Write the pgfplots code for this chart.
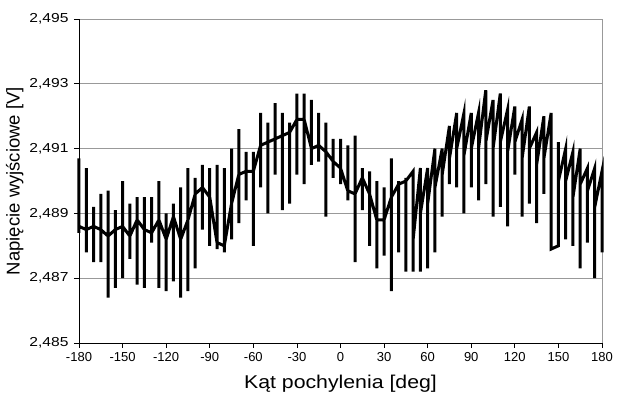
\documentclass[border=0pt]{standalone}
\usepackage{fontspec}
\setmainfont{Liberation Sans}
\usepackage{graphicx}
\usepackage{pgfplots}
\pgfplotsset{compat=1.18}
\newcommand{\yl}[1]{\scalebox{1.2}[1]{#1}}
\begin{document}
\begin{tikzpicture}
\begin{axis}[
  name=ax,
  scale only axis,
  width=523pt, height=324pt,
  xmin=-180, xmax=180,
  ymin=2.485, ymax=2.495,
  xtick={-180,-150,...,180},
  xticklabels={-180,-150,-120,-90,-60,-30,0,30,60,90,120,150,180},
  ytick={2.485,2.487,2.489,2.491,2.493,2.495},
  yticklabels={\yl{2,485},\yl{2,487},\yl{2,489},\yl{2,491},\yl{2,493},\yl{2,495}},
  axis lines*=left,
  axis line style={black, line width=0.8pt},
  tick align=outside,
  major tick length=5pt,
  tick style={black, line width=0.8pt},
  ymajorgrids,
  major grid style={gray!80, line width=0.7pt},
  extra x ticks={180}, extra x tick labels={},
  extra x tick style={xmajorgrids=true, major tick length=0pt},
  tick label style={font=\fontsize{13}{15}\selectfont},
  yticklabel style={xshift=-2pt},
  xticklabel style={yshift=-1pt},
  xlabel={\scalebox{1.15}[1]{Kąt pochylenia [deg]}},
  ylabel={Napięcie wyjściowe [V]},
  label style={font=\fontsize{18.5}{22}\selectfont},
  xlabel style={yshift=-1pt},
  ylabel style={yshift=-1pt},
  clip=false,
]
\addplot[black, line width=3pt, line join=miter] table {
x y
-180 2.4907
-180 2.4884
-180 2.4886
-175 2.4885
-175 2.4904
-175 2.4878
-175 2.4885
-170 2.4886
-170 2.4892
-170 2.4875
-170 2.4886
-165 2.4885
-165 2.4896
-165 2.4875
-165 2.4885
-160 2.4883
-160 2.4897
-160 2.4864
-160 2.4883
-155 2.4885
-155 2.4891
-155 2.4867
-155 2.4885
-150 2.4886
-150 2.4900
-150 2.4870
-150 2.4886
-145 2.4883
-145 2.4893
-145 2.4876
-145 2.4883
-140 2.4888
-140 2.4895
-140 2.4868
-140 2.4888
-135 2.4885
-135 2.4895
-135 2.4867
-135 2.4885
-130 2.4884
-130 2.4895
-130 2.4881
-130 2.4884
-125 2.4888
-125 2.4900
-125 2.4867
-125 2.4888
-120 2.4882
-120 2.4890
-120 2.4866
-120 2.4882
-115 2.4889
-115 2.4893
-115 2.4869
-115 2.4889
-110 2.4882
-110 2.4898
-110 2.4864
-110 2.4882
-105 2.4888
-105 2.4904
-105 2.4866
-105 2.4888
-100 2.4896
-100 2.4901
-100 2.4873
-100 2.4896
-95 2.4898
-95 2.4905
-95 2.4885
-95 2.4898
-90 2.4895
-90 2.4904
-90 2.4880
-90 2.4895
-85 2.4881
-85 2.4905
-85 2.4879
-85 2.4881
-80 2.4880
-80 2.4904
-80 2.4878
-80 2.4880
-75 2.4893
-75 2.4910
-75 2.4882
-75 2.4893
-70 2.4902
-70 2.4916
-70 2.4887
-70 2.4902
-65 2.4903
-65 2.4909
-65 2.4894
-65 2.4903
-60 2.4903
-60 2.4909
-60 2.4880
-60 2.4903
-55 2.4911
-55 2.4921
-55 2.4898
-55 2.4911
-50 2.4912
-50 2.4918
-50 2.4890
-50 2.4912
-45 2.4913
-45 2.4924
-45 2.4902
-45 2.4913
-40 2.4914
-40 2.4921
-40 2.4891
-40 2.4914
-35 2.4915
-35 2.4918
-35 2.4893
-35 2.4915
-30 2.4919
-30 2.4927
-30 2.4902
-30 2.4919
-25 2.4919
-25 2.4927
-25 2.4899
-25 2.4919
-20 2.4910
-20 2.4925
-20 2.4905
-20 2.4910
-15 2.4911
-15 2.4921
-15 2.4906
-15 2.4911
-10 2.4909
-10 2.4918
-10 2.4889
-10 2.4909
-5 2.4906
-5 2.4913
-5 2.4901
-5 2.4906
0 2.4904
0 2.4913
0 2.4899
0 2.4904
5 2.4897
5 2.4911
5 2.4894
5 2.4897
10 2.4896
10 2.4914
10 2.4875
10 2.4896
15 2.4901
15 2.4904
15 2.4891
15 2.4901
20 2.4896
20 2.4903
20 2.4880
20 2.4896
25 2.4888
25 2.4900
25 2.4873
25 2.4888
30 2.4888
30 2.4898
30 2.4877
30 2.4888
35 2.4895
35 2.4907
35 2.4866
35 2.4895
40 2.4899
40 2.4900
40 2.4878
40 2.4899
45 2.4900
45 2.4901
45 2.4872
45 2.4900
50 2.4903
50 2.4872
50 2.4882
55 2.4904
55 2.4872
55 2.4890
60 2.4904
60 2.4873
60 2.4893
65 2.4910
65 2.4878
65 2.4898
70 2.4910
70 2.4889
70 2.4902
75 2.4917
75 2.4899
75 2.4907
80 2.4921
80 2.4898
80 2.4910
85 2.4921
85 2.4890
85 2.4908
90 2.4921
90 2.4898
90 2.4910
95 2.4921
95 2.4894
95 2.4910
100 2.4928
100 2.4899
100 2.4912
105 2.4925
105 2.4889
105 2.4910
110 2.4927
110 2.4892
110 2.4912
115 2.4922
115 2.4886
115 2.4909
120 2.4923
120 2.4902
120 2.4912
125 2.4919
125 2.4889
125 2.4907
130 2.4923
130 2.4893
130 2.4910
135 2.4915
135 2.4887
135 2.4905
140 2.4920
140 2.4896
140 2.4907
145 2.4921
145 2.4879
145 2.4879
150 2.4880
150 2.4912
150 2.4900
155 2.4910
155 2.4882
155 2.4900
160 2.4909
160 2.4880
160 2.4895
165 2.4910
165 2.4873
165 2.4899
170 2.4904
170 2.4881
170 2.4897
175 2.4904
175 2.4870
175 2.4892
180 2.4903
180 2.4878
180 2.4897
};
\end{axis}
\pgfresetboundingbox
\path[use as bounding box] ([shift={(-79pt,-51pt)}]ax.south west) rectangle ([shift={(17pt,19pt)}]ax.north east);
\end{tikzpicture}
\end{document}
